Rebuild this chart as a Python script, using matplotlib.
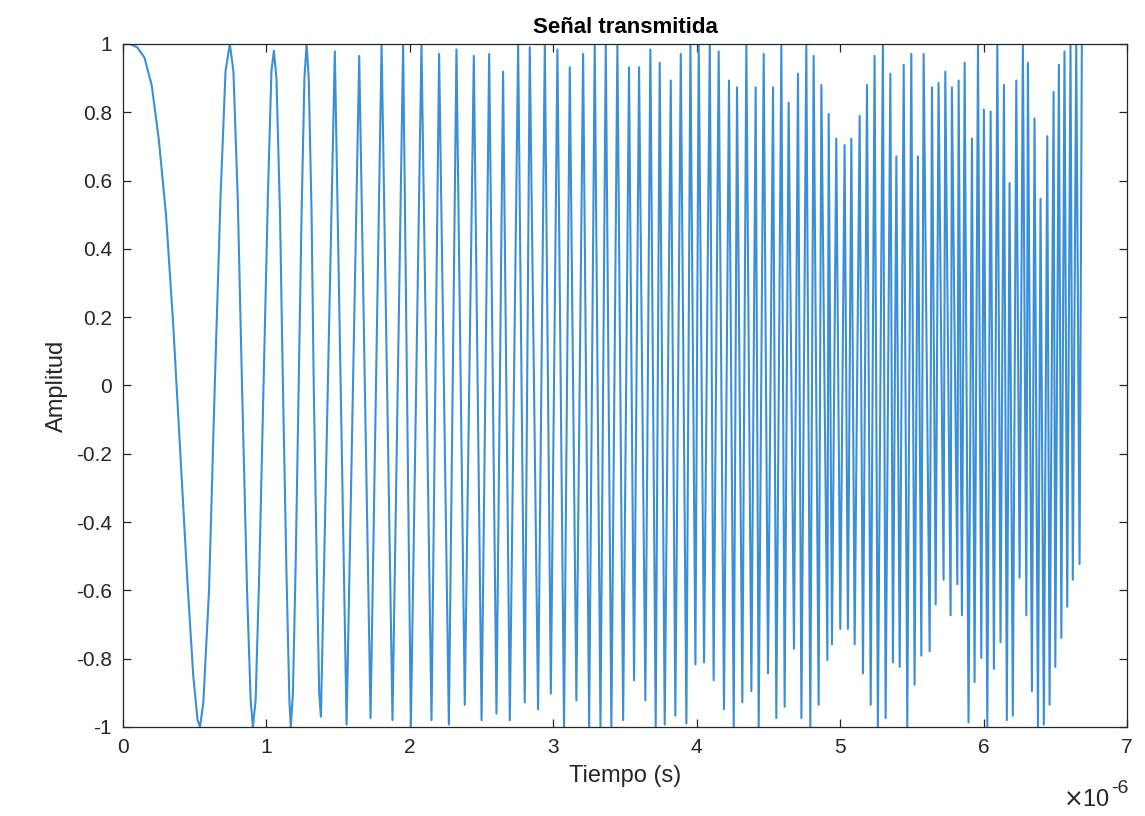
import matplotlib
matplotlib.use("Agg")
import matplotlib.pyplot as plt

# early part of the pulse (time in microseconds), shape read point by point
start_t = [0, 0.05, 0.10, 0.15, 0.20, 0.25, 0.30, 0.35, 0.40, 0.45, 0.49, 0.52, 0.537,
           0.56, 0.60, 0.64, 0.68, 0.715, 0.745, 0.77, 0.80, 0.83, 0.865, 0.89, 0.906,
           0.925, 0.95, 0.98, 1.01, 1.035, 1.052, 1.07, 1.095, 1.115, 1.14, 1.16, 1.17,
           1.185, 1.205, 1.225, 1.245, 1.265, 1.28, 1.295, 1.315, 1.33, 1.35, 1.368, 1.38]
start_v = [1.0, 1.0, 0.99, 0.96, 0.88, 0.72, 0.50, 0.18, -0.20, -0.58, -0.85, -0.98, -1.0,
           -0.93, -0.60, 0.0, 0.55, 0.92, 1.0, 0.92, 0.55, 0.0, -0.60, -0.92, -1.0,
           -0.92, -0.55, 0.0, 0.55, 0.92, 0.98, 0.90, 0.50, 0.0, -0.55, -0.92, -1.0,
           -0.90, -0.50, 0.0, 0.50, 0.90, 1.0, 0.90, 0.50, 0.0, -0.50, -0.90, -0.97]

# upper peaks of the trace
peak_t = [1.477, 1.647, 1.803, 1.953, 2.081, 2.204, 2.325, 2.446, 2.553, 2.650, 2.755,
          2.836, 2.941, 3.029, 3.115, 3.208, 3.289, 3.366, 3.447, 3.528, 3.598, 3.677,
          3.742, 3.819, 3.889, 3.956,
          4.014, 4.091, 4.153, 4.225, 4.281, 4.346, 4.411, 4.467, 4.532, 4.590, 4.641,
          4.706, 4.764, 4.815, 4.869, 4.920,
          4.973, 5.031, 5.078, 5.136, 5.187, 5.240, 5.298, 5.350, 5.392, 5.443, 5.496,
          5.542, 5.582, 5.640, 5.686, 5.733, 5.779,
          5.826, 5.868, 5.919, 5.961, 6.002, 6.049, 6.096, 6.142, 6.181, 6.228, 6.274,
          6.309, 6.355, 6.397, 6.444, 6.488, 6.525, 6.564, 6.606, 6.646, 6.685]
peak_v = [0.978, 0.965, 1.0, 1.0, 1.0, 0.971, 0.984, 0.965, 0.971, 0.919, 1.0,
          0.991, 1.0, 0.984, 0.932, 0.971, 1.0, 1.0, 1.0, 0.932, 0.932, 0.984,
          0.945, 0.893, 0.971, 1.0,
          1.0, 1.0, 0.978, 0.893, 0.873, 1.0, 0.873, 0.971, 0.873, 1.0, 0.828,
          0.913, 1.0, 0.965, 0.880, 0.795,
          0.723, 0.704, 0.723, 0.789, 0.880, 0.965, 1.0, 0.913, 0.671, 0.939, 0.971,
          0.671, 0.971, 0.873, 0.886, 0.919, 0.873,
          0.893, 0.945, 0.723, 1.0, 0.808, 0.802, 1.0, 0.880, 0.593, 0.893, 1.0,
          0.945, 0.782, 0.547, 0.730, 0.860, 0.939, 0.978, 1.0, 1.0, 1.0]

# lower troughs of the trace
trough_t = [1.559, 1.726, 1.879, 2.007, 2.151, 2.272, 2.383, 2.500, 2.604, 2.697, 2.801,
            2.894, 2.983, 3.075, 3.161, 3.250, 3.329, 3.405, 3.487, 3.563, 3.642, 3.714,
            3.777, 3.851, 3.928, 3.991,
            4.051, 4.118, 4.190, 4.258, 4.318, 4.381, 4.432, 4.497, 4.555, 4.613, 4.678,
            4.730, 4.792, 4.850, 4.911,
            4.943, 5.001, 5.054, 5.101, 5.159, 5.213, 5.263, 5.317, 5.368, 5.415, 5.468,
            5.519, 5.566, 5.624, 5.666, 5.721, 5.770, 5.817,
            5.849, 5.895, 5.937, 5.984, 6.026, 6.072, 6.118, 6.162, 6.204, 6.251, 6.298,
            6.337, 6.379, 6.420, 6.460, 6.500, 6.542, 6.583, 6.622, 6.669]
trough_v = [-0.993, -0.974, -0.980, -1.0, -0.980, -0.993, -0.935, -0.980, -0.961, -0.980, -0.928,
            -0.948, -0.902, -1.0, -0.922, -1.0, -1.0, -1.0, -0.980, -0.863, -0.922, -1.0,
            -0.993, -0.967, -0.990, -0.817,
            -0.811, -0.863, -0.948, -1.0, -0.928, -0.895, -1.0, -0.843, -0.974, -0.941, -0.771,
            -0.974, -1.0, -0.935, -0.804,
            -0.758, -0.713, -0.713, -0.758, -0.843, -0.935, -1.0, -0.974, -0.811, -0.824, -1.0,
            -0.876, -0.791, -0.778, -0.641, -0.569, -0.673, -0.582,
            -0.673, -0.987, -0.869, -0.798, -1.0, -0.830, -0.752, -0.980, -0.967, -0.563, -0.673,
            -0.895, -1.0, -0.993, -0.935, -0.824, -0.739, -0.648, -0.569, -0.523]

x_ticks = [0, 1, 2, 3, 4, 5, 6, 7]
y_ticks = [-1, -0.8, -0.6, -0.4, -0.2, 0, 0.2, 0.4, 0.6, 0.8, 1]

pts = sorted(zip(start_t + peak_t + trough_t, start_v + peak_v + trough_v))
t = [p[0] for p in pts]
v = [p[1] for p in pts]

plt.rcParams['font.family'] = ['Liberation Sans', 'DejaVu Sans']

fig = plt.figure(figsize=(11.45, 8.16), dpi=100)
ax = fig.add_axes([0.1074, 0.1091, 0.8769, 0.8370])
ax.plot(t, v, color='#3a8fd6', linewidth=1.5)

ax.set_xlim(0, 7)
ax.set_ylim(-1, 1)
ax.set_xticks(x_ticks)
ax.set_xticklabels([str(x) for x in x_ticks])
ax.set_yticks(y_ticks)
ax.set_yticklabels(['%g' % y for y in y_ticks])

axis_col = '#262626'
for s in ax.spines.values():
    s.set_color(axis_col)
    s.set_linewidth(0.9)
ax.tick_params(direction='in', top=True, right=True, length=6, width=0.9,
               colors=axis_col, labelsize=15, pad=8)

ax.set_title('Señal transmitida', fontsize=16, fontweight='bold', pad=8)
ax.set_xlabel('Tiempo (s)', fontsize=17, color=axis_col, labelpad=6)
ax.set_ylabel('Amplitud', fontsize=17, color=axis_col, labelpad=6)
# exponent note, drawn as MATLAB does below the right end of the x axis
fig.text(1110 / 1145, 1 - 789 / 816, r'$\times$10', ha='right', va='top',
         fontsize=17, color=axis_col)
fig.text(1111 / 1145, 1 - 780 / 816, '-6', ha='left', va='top',
         fontsize=14, color=axis_col)

fig.savefig('out.png', dpi=100)
